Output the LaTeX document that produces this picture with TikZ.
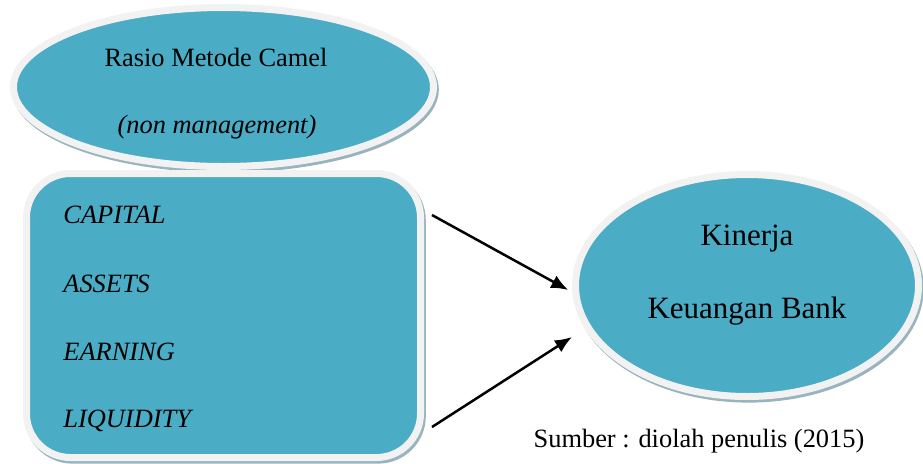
\documentclass[tikz,border=0pt]{standalone}
\usepackage{fontspec}
\setmainfont{Liberation Serif}
\usepackage{tikz}
\usetikzlibrary{shapes.geometric, arrows.meta, positioning}
\definecolor{camelblue}{HTML}{4BACC6}
\definecolor{camelrim}{HTML}{F2F2F2}
\definecolor{camelshade}{HTML}{98B4BE}
\tikzstyle{arrow} = [line width=1.25pt,-{Latex[length=8.5pt,width=7pt]}]

\begin{document}
\begin{tikzpicture}[x=0.5pt, y=-0.5pt,
	panel/.style={fill=camelblue, draw=camelrim, line width=3.5pt, inner sep=0pt, preaction={draw=camelshade, fill=camelshade, line width=3.5pt, transform canvas={shift={(0.9pt,-1.3pt)}}}},
	txt/.style={font=\fontsize{13.2}{16}\selectfont, anchor=base, inner sep=0pt}]
		
		\useasboundingbox (0,0) rectangle (923,463);
		
		% SHAPES
		
		\node [panel, ellipse, minimum width=210pt, minimum height=79.5pt] (camel) at (223.5,87) {};
		\node [panel, rounded corners=22pt, minimum width=197pt, minimum height=142pt] (ratios) at (223.5,315.5) {};
		\node [panel, ellipse, minimum width=171.5pt, minimum height=111pt] (kinerja) at (747,285.5) {};
		
		% TEXTS
		
		\node [txt] (camelname) at (216,66) {Rasio Metode Camel};
		\node [txt] (camelnote) at (217,133) {\textit{(non management)}};
		
		\node [txt, anchor=base west] (capital) at (63,223) {\textit{CAPITAL}};
		\node [txt, anchor=base west] (assets) at (63,292) {\textit{ASSETS}};
		\node [txt, anchor=base west] (earning) at (63,360) {\textit{EARNING}};
		\node [txt, anchor=base west] (liquidity) at (63,427) {\textit{LIQUIDITY}};
		
		\node [txt, font=\fontsize{15.5}{18}\selectfont] (kinerjaone) at (747,245) {Kinerja};
		\node [txt, font=\fontsize{15.5}{18}\selectfont] (kinerjatwo) at (747,318) {Keuangan Bank};
		
		\node [txt] (sumber) at (699,447) {Sumber : diolah penulis (2015)};
		
		% ARROWS
		
		\coordinate (capstart) at (432,215);
		\coordinate (liqstart) at (432,427);
		\draw [arrow] (capstart) -- ([shift={(-1.9pt,-2.25pt)}]kinerja.west);
		\draw [arrow] (liqstart) -- ([yshift=-25.75pt]kinerja.west);
		
\end{tikzpicture}
\end{document}
